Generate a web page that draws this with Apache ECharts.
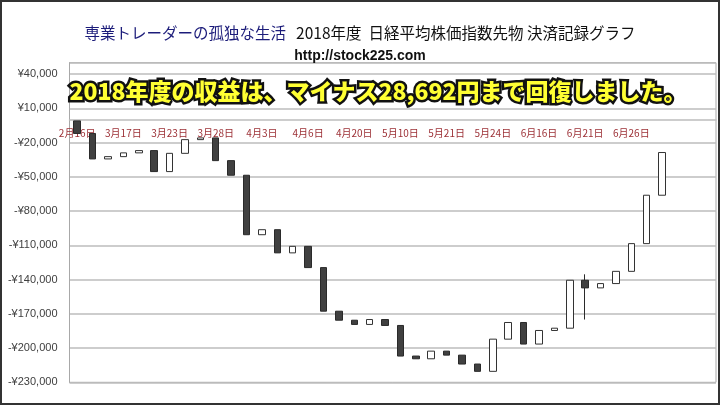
<!DOCTYPE html>
<html>
<head>
<meta charset="utf-8">
<script src="https://cdn.jsdelivr.net/npm/echarts@6/dist/echarts.min.js"></script>
<style>
  html, body { margin: 0; padding: 0; background: #fff; }
  #main { width: 720px; height: 405px; }
</style>
</head>
<body>
<div id="main"></div>
<script>
// 表示する日付ラベル (3本ごと)
var tickLabels = ['2月16日', '3月17日', '3月23日', '3月28日', '4月3日', '4月6日', '4月20日',
    '5月10日', '5月21日', '5月24日', '6月16日', '6月21日', '6月26日'];
var slotCount = 42;

// 累計損益 (始値=前回の累計, 終値=決済後の累計)
var opens = [-1000, -12000, -34300, -32300, -29000, -27000, -45400, -29400, -17400, -15900,
    -35800, -48600, -100700, -96300, -116600, -110900, -129500, -167700, -175600, -179300,
    -175000, -180200, -207000, -209400, -202700, -206200, -214000, -220400, -192200, -177600,
    -196500, -184600, -182600, -140600, -147300, -143500, -132800, -108500, -66100];
var closes = [-12000, -34300, -32300, -29000, -27000, -45400, -29400, -17400, -15900, -35800,
    -48600, -100700, -96300, -116600, -110900, -129500, -167700, -175600, -179300, -175000,
    -180200, -207000, -209400, -202700, -206200, -214000, -220400, -192200, -177600, -196500,
    -184600, -182600, -140600, -147300, -143500, -132800, -108500, -66100, -28692];
// ヒゲ (null はヒゲなし)
var lows = [null, null, null, null, null, null, null, null, null, null,
    null, null, null, null, null, null, null, null, null, null,
    null, null, null, null, null, null, null, null, null, null,
    null, null, null, -175000, null, null, null, null, null];
var highs = [null, null, null, null, null, null, null, null, null, null,
    null, null, null, null, null, null, null, null, null, null,
    null, null, null, null, null, null, null, null, null, null,
    null, null, null, -135400, null, null, null, null, null];

var yMin = -230000, yMax = 50000, yStep = 30000;

var categories = [];
for (var i = 0; i < slotCount; i++) {
    categories.push(i % 3 === 0 && tickLabels[i / 3] ? tickLabels[i / 3] : '');
}

var candles = [];
for (var j = 0; j < opens.length; j++) {
    var o = opens[j], c = closes[j];
    var lo = lows[j] != null ? lows[j] : Math.min(o, c);
    var hi = highs[j] != null ? highs[j] : Math.max(o, c);
    candles.push([o, c, lo, hi]);
}

var myChart = echarts.init(document.getElementById('main'));

var option = {
    animation: false,
    title: {
        text: '{a|専業トレーダーの孤独な生活}  {b|2018年度  日経平均株価指数先物 決済記録グラフ}',
        subtext: 'http://stock225.com',
        left: 'center',
        top: 24,
        padding: 0,
        itemGap: 7,
        textStyle: {
            rich: {
                a: { color: '#1c1c7a', fontSize: 15.5, fontWeight: 'normal', fontFamily: '"Noto Sans CJK JP"' },
                b: { color: '#111', fontSize: 15.5, fontWeight: 'normal', fontFamily: '"Noto Sans CJK JP"' }
            }
        },
        subtextStyle: {
            color: '#111',
            fontSize: 14,
            fontWeight: 'bold',
            fontFamily: '"Liberation Sans"'
        }
    },
    grid: {
        left: 69.5,
        right: 4,
        top: 62.7,
        bottom: 22.7,
        show: true,
        borderColor: '#a8a8a8',
        borderWidth: 1
    },
    xAxis: {
        type: 'category',
        data: categories,
        offset: 0,
        axisLine: { onZero: false, lineStyle: { color: '#bdbdbd', width: 1.5 } },
        axisTick: { show: false },
        axisLabel: {
            interval: 0,
            margin: 8,
            color: '#9c2f35',
            fontSize: 10,
            fontFamily: '"Noto Sans CJK JP"'
        },
        splitLine: { show: false }
    },
    yAxis: {
        type: 'value',
        min: yMin,
        max: yMax,
        interval: yStep,
        axisLine: { show: true, lineStyle: { color: '#a8a8a8' } },
        axisTick: { show: false },
        axisLabel: {
            margin: 12,
            color: '#404040',
            fontSize: 11,
            fontFamily: '"Liberation Sans"',
            formatter: function (v) {
                if (v === yMax) return '';
                return (v < 0 ? '-' : '') + '¥' + Math.abs(v).toLocaleString('en-US');
            }
        },
        splitLine: { lineStyle: { color: '#bdbdbd', width: 1.5 } }
    },
    series: [{
        type: 'candlestick',
        data: candles,
        barWidth: 7,
        itemStyle: {
            color: '#ffffff',
            color0: '#404040',
            borderColor: '#333333',
            borderColor0: '#2a2a2a',
            borderWidth: 1
        },
        emphasis: { disabled: true }
    }],
    graphic: [
        {
            type: 'text',
            x: 378,
            y: 91,
            z: 100,
            style: {
                text: '2018年度の収益は、マイナス28,692円まで回復しました。',
                font: '900 23px "Noto Sans CJK JP"',
                fill: '#ffff33',
                stroke: '#111111',
                lineWidth: 5,
                strokeFirst: true,
                align: 'center',
                verticalAlign: 'middle'
            }
        },
        {
            type: 'rect',
            z: 100,
            shape: { x: 1, y: 1, width: 718, height: 403 },
            style: { fill: 'none', stroke: '#333333', lineWidth: 2 }
        }
    ]
};

myChart.setOption(option);

// 横軸を 0 の位置へ移動 (Excel の「横軸との交点 = 0」)
var zeroY = myChart.convertToPixel({ yAxisIndex: 0 }, 0);
var bottomY = myChart.convertToPixel({ yAxisIndex: 0 }, yMin);
myChart.setOption({ xAxis: { offset: -(bottomY - zeroY) } });

window.addEventListener('resize', function () {
    myChart.resize();
});
</script>
</body>
</html>
